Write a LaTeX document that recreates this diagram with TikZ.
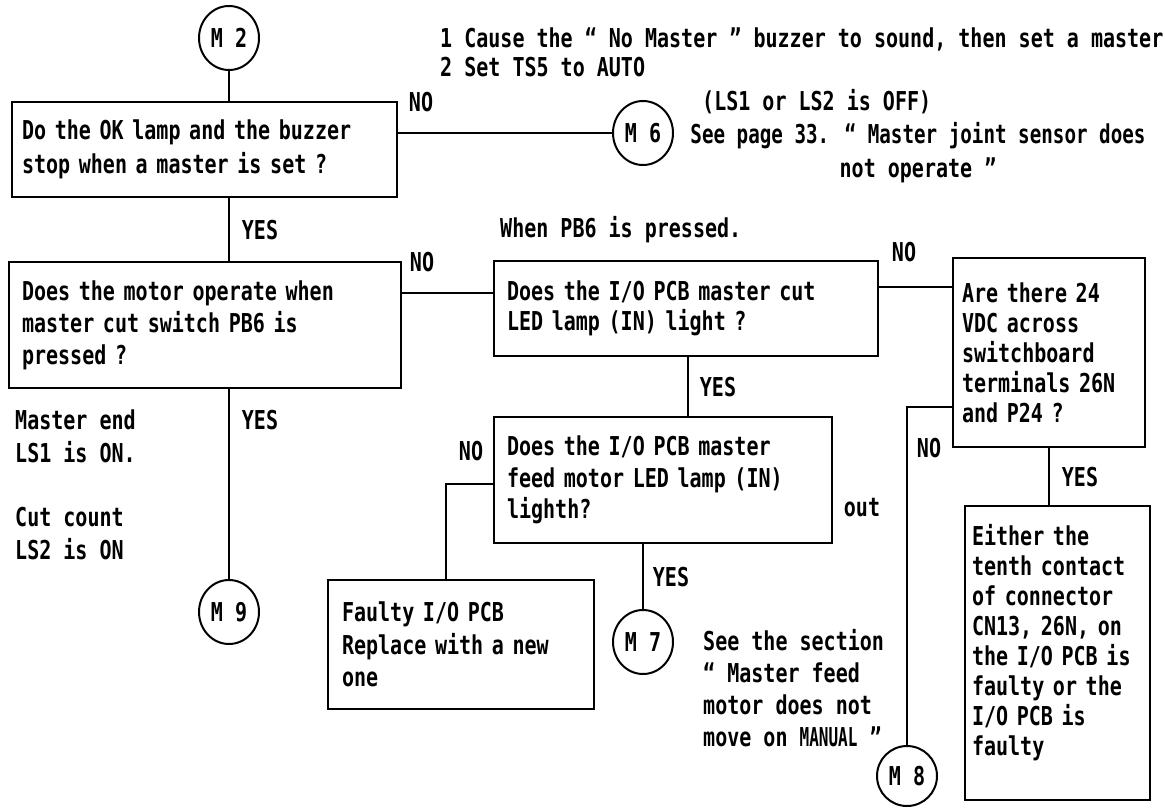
\documentclass[tikz,border=0pt]{standalone}
\usepackage{fontspec}
\setmainfont{DejaVu Sans Mono}[FakeStretch=0.77]
\usetikzlibrary{shapes.geometric}
\tikzset{qbox/.style={
    rectangle,
    draw,
    line width=2pt,
    align=left,
    inner xsep=10pt,
    inner ysep=0pt
  },
  conn/.style={ellipse,draw,line width=2pt,inner sep=0pt,
    minimum width=60pt,minimum height=64pt,lh=30pt},
  lh/.style={font=\fontsize{26}{#1}\selectfont\bfseries},
  lbl/.style={inner sep=0pt,lh=30pt},
  note/.style={lbl,align=left,anchor=west},
  link/.style={line width=2pt},
}
\begin{document}
\begin{tikzpicture}[x=1pt,y=-1pt]
  \useasboundingbox (0,0) rectangle (1165,808);
  \node [conn] (m2) at (229,38) {M 2};
  \node [conn] (m6) at (643,133) {M 6};
  \node [conn] (m9) at (229,612) {M 9};
  \node [conn] (m7) at (643,642) {M 7};
  \node [conn,minimum height=60pt] (m8) at (907,776) {M 8};
  \node [qbox,lh=34pt,minimum width=385pt,minimum height=95pt,text width=365pt] (okq) at (204.5,149.5)
    {Do the OK lamp and the buzzer\\stop when a master is set ?};
  \node [qbox,lh=32pt,minimum width=386pt,minimum height=126pt,text width=366pt,inner xsep=13pt] (motorq) at (205,325)
    {Does the motor operate when\\master cut switch PB6 is\\pressed ?};
  \node [qbox,lh=30pt,minimum width=384pt,minimum height=95pt,text width=358pt,inner xsep=13pt] (cutq) at (686,308.5)
    {Does the I/O PCB master cut\\LED lamp (IN) light ?};
  \node [qbox,lh=31.5pt,minimum width=338pt,minimum height=126pt,text width=312pt,inner xsep=13pt] (feedq) at (663,480)
    {Does the I/O PCB master\\feed motor LED lamp (IN)\\lighth?};
  \node [qbox,lh=30pt,minimum width=192pt,minimum height=189pt,text width=174pt,inner xsep=9pt] (vdcq) at (1049,352.5)
    {Are there 24\\VDC across\\switchboard\\terminals 26N\\and P24 ?};
  \node [qbox,lh=32.5pt,minimum width=266pt,minimum height=129pt,text width=238pt,inner xsep=14pt] (faulty) at (461,644.5)
    {Faulty I/O PCB\\Replace with a new\\one};
  \node [qbox,lh=30pt,minimum width=185pt,minimum height=294pt,text width=171pt,inner xsep=7pt] (contact) at (1057.5,653)
    {Either the\\tenth contact\\of connector\\CN13, 26N, on\\the I/O PCB is\\faulty or the\\I/O PCB is\\faulty\\[-4pt]\mbox{}};

  \draw [link] (m2.south) -- (m2.south |- okq.north);
  \draw [link] ([yshift=16.5pt]okq.east) -- (m6.west);
  \draw [link] (m9 |- okq.south) -- (m9 |- motorq.north);
  \draw [link] (m9 |- motorq.south) -- (m9.north);
  \draw [link] ([yshift=15.5pt]cutq.west) -- ([yshift=15.5pt]cutq.west -| motorq.east);
  \draw [link] ([yshift=21.5pt]cutq.east) -- ([yshift=21.5pt]cutq.east -| vdcq.west);
  \draw [link] ([xshift=2pt]cutq.south) -- ([xshift=2pt]cutq.south |- feedq.north);
  \draw [link] ([yshift=-4pt]feedq.west) -| ([xshift=-15pt]faulty.north);
  \draw [link] (m7 |- feedq.south) -- (m7.north);
  \draw [link] ([yshift=-54.5pt]vdcq.west) -| (m8.north);
  \draw [link] (vdcq.south) -- (vdcq.south |- contact.north);

  \node [lbl] (no1) at (421,102) {NO};
  \node [lbl] (yes1) at (260,230) {YES};
  \node [lbl] (no2) at (422,262) {NO};
  \node [lbl] (no3) at (904,252) {NO};
  \node [lbl] (yes2) at (718,387) {YES};
  \node [lbl] (no4) at (471,451) {NO};
  \node [lbl] (yes3) at (260,420) {YES};
  \node [lbl] (no5) at (929,448) {NO};
  \node [lbl] (yes4) at (1080,477) {YES};
  \node [lbl] (yes5) at (671,577) {YES};
  \node [lbl] (out) at (862,508) {out};

  \node [note,lh=29pt] (steps) at (440,52.5)
    {1 Cause the “ No Master ” buzzer to sound, then set a master\\2 Set TS5 to AUTO};
  \node [note] (lsoff) at (702,102) {(LS1 or LS2 is OFF)};
  \node [lbl,lh=34pt,align=center] (page33) at (918,153)
    {\scalebox{0.96}[1]{See page 33. “ Master joint sensor does}\\not operate ”};
  \node [note] (whenpb) at (500,230) {When PB6 is pressed.};
  \node [note,lh=33pt] (ls1) at (15,436.5) {Master end\\LS1 is ON.};
  \node [note,lh=33pt] (ls2) at (15,533.5) {Cut count\\LS2 is ON};
  \node [note,lh=32pt] (section) at (703,688)
    {See the section\\“ Master feed\\motor does not\\move on \scalebox{0.8}[1]{MANUAL} ”};
\end{tikzpicture}
\end{document}
